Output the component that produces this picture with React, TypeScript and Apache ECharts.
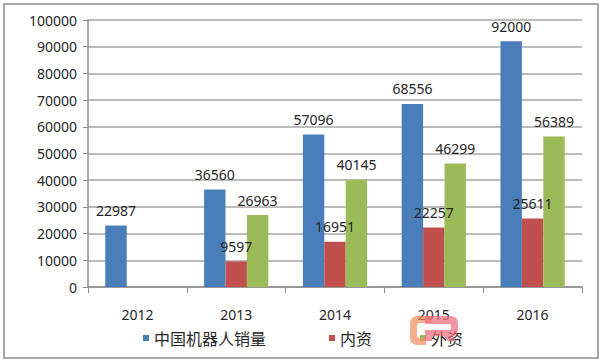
import React, { useEffect, useRef } from "react";
import * as echarts from "echarts";

const categories = ["2012", "2013", "2014", "2015", "2016"];
const totalSales = [22987, 36560, 57096, 68556, 92000];
const domestic = [null, 9597, 16951, 22257, 25611];
const foreign = [null, 26963, 40145, 46299, 56389];
const seriesNames = ["中国机器人销量", "内资", "外资"];
const legendLefts = [138, 324, 415];

const logoC = "M22 0 L8 0 Q0 0 0 8 L0 21 Q0 29 8 29 L16 29 L16 22 L10 22 Q7 22 7 19 L7 10 Q7 7 10 7 L22 7 Z";
const logoR = "M15 0 L40 0 Q48 0 48 8 L48 14 Q48 20 42 20 L46 25 L38 25 L34 20 L22 20 L22 25 L15 25 L15 14 L40 14 Q41 14 41 12 L41 10 Q41 8 39 8 L15 8 Z";

export default function App() {
  const ref = useRef<HTMLDivElement>(null);
  useEffect(() => {
    if (!ref.current) return;
    echarts.graphic.registerShape("logoC", echarts.graphic.extendPath(logoC, {}));
    echarts.graphic.registerShape("logoR", echarts.graphic.extendPath(logoR, {}));
    const chart = echarts.init(ref.current, undefined, { renderer: "svg" });
    const labelStyle = {
      show: true,
      position: "top" as const,
      distance: 8,
      color: "#262626",
      fontSize: 14,
      fontFamily: "Noto Sans",
    };
    chart.setOption({
      animation: false,
      backgroundColor: "#ffffff",
      grid: { left: 88, right: 23, top: 20, bottom: 77 },
      legend: seriesNames.map((name, i) => ({
        bottom: 13,
        left: legendLefts[i],
        itemWidth: 6,
        itemHeight: 6,
        icon: "rect",
        textStyle: { fontSize: 16, color: "#262626", fontFamily: "Noto Sans CJK SC" },
        data: [name],
      })),
      xAxis: {
        type: "category",
        data: categories,
        axisLine: { lineStyle: { color: "#8c8c8c", width: 1.5 } },
        axisTick: { show: true, length: 6, lineStyle: { color: "#8c8c8c" } },
        axisLabel: { color: "#262626", fontSize: 14, fontFamily: "Noto Sans", margin: 20 },
      },
      yAxis: {
        type: "value",
        min: 0,
        max: 100000,
        interval: 10000,
        axisLine: { show: true, lineStyle: { color: "#8c8c8c", width: 1.5 } },
        axisTick: { show: true, length: 5, lineStyle: { color: "#8c8c8c" } },
        axisLabel: {
          color: "#262626",
          fontSize: 14,
          fontFamily: "Noto Sans",
          margin: 11,
          formatter: (v: number) => String(v),
        },
        splitLine: { lineStyle: { color: "#a6a6a6", width: 1.5 } },
      },
      series: [
        {
          name: seriesNames[0],
          type: "bar",
          data: totalSales,
          itemStyle: { color: "#4a7ebb" },
          barGap: "0%",
          barCategoryGap: "35%",
          label: labelStyle,
        },
        {
          name: seriesNames[1],
          type: "bar",
          data: domestic,
          itemStyle: { color: "#c0504d" },
          label: labelStyle,
        },
        {
          name: seriesNames[2],
          type: "bar",
          data: foreign,
          itemStyle: { color: "#9bbb59" },
          label: labelStyle,
        },
      ],
      graphic: [
        {
          type: "rect",
          shape: { x: 4, y: 4, width: 594, height: 354 },
          style: { fill: "none", stroke: "#a6a6a6", lineWidth: 2 },
          silent: true,
        },
        {
          type: "logoC",
          x: 410,
          y: 316,
          style: { fill: "#f08a5d", opacity: 0.7 },
          silent: true,
          z: 100,
        },
        {
          type: "logoR",
          x: 410,
          y: 316,
          style: { fill: "#ef6a7a", opacity: 0.7 },
          silent: true,
          z: 100,
        },
      ],
    });
    return () => chart.dispose();
  }, []);
  return (
    <div
      ref={ref}
      style={{ position: "absolute", left: 0, top: 0, width: 605, height: 364, background: "#fff" }}
    />
  );
}
